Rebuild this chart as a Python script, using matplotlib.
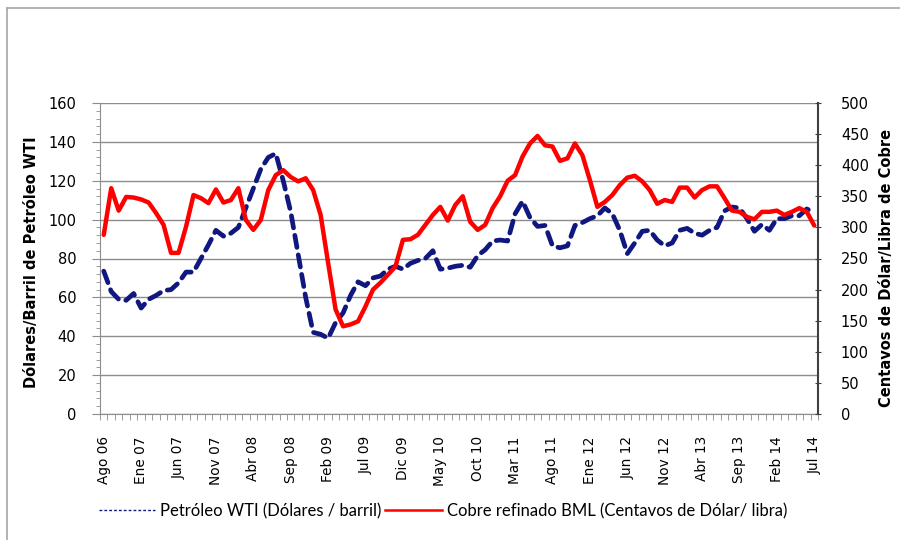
import numpy as np
import matplotlib
matplotlib.use("Agg")
import matplotlib.pyplot as plt
from matplotlib.lines import Line2D
from matplotlib.ticker import MultipleLocator, FixedLocator

# monthly data, Ago 06 .. Jul 14 (96 months)
tick_labels = ["Ago 06", "Ene 07", "Jun 07", "Nov 07", "Abr 08", "Sep 08", "Feb 09",
               "Jul 09", "Dic 09", "May 10", "Oct 10", "Mar 11", "Ago 11", "Ene 12",
               "Jun 12", "Nov 12", "Abr 13", "Sep 13", "Feb 14", "Jul 14"]

wti = [73.5, 63, 59, 58.5, 62, 54.5, 59, 61, 63.5, 64, 67.5, 73,
       73, 80, 87, 94.5, 91.5, 93, 96, 106, 116, 126, 132, 134,
       120, 104, 82, 60, 42, 41, 39, 47, 52, 61, 68, 66,
       70, 71, 74.5, 76, 74.5, 77.5, 79, 80, 84, 74.5, 75, 76,
       76.5, 75.5, 81.5, 84.5, 89, 89.5, 89, 103, 109.5, 101, 96.5, 97,
       86.5, 85.5, 86.5, 97, 98.5, 100.5, 102, 106, 103, 94.5, 82.5, 88,
       94, 94.5, 89.5, 86.5, 88, 94.5, 95.5, 93, 92, 94.5, 96, 104.5,
       106.5, 106, 100.5, 94, 97.5, 94.5, 100.5, 100.5, 102, 102, 105.5, 103.5]

cobre = [288, 363, 327, 349, 348, 345, 340, 323, 304, 259, 259, 301,
         352, 347, 339, 361, 340, 344, 363, 312, 296, 312, 360, 384,
         392, 381, 374, 379, 360, 320, 243, 168, 141, 144, 149, 173,
         200, 211, 224, 237, 280, 281, 288, 304, 320, 333, 311, 336,
         350, 309, 296, 304, 331, 350, 375, 384, 414, 435, 447, 432,
         430, 407, 411, 435, 416, 376, 333, 341, 352, 368, 380, 383,
         374, 360, 338, 344, 341, 364, 364, 348, 360, 366, 366, 347,
         327, 325, 317, 313, 325, 325, 327, 320, 325, 331, 325, 303]

x = np.arange(len(wti))
azul = "#101880"
rojo = "#ff0000"
gris = "#8c8c8c"

fig = plt.figure(figsize=(9, 5.4), dpi=100)
# marco exterior (solo arriba e izquierda, el resto queda fuera de la imagen)
x0, y0 = 6.5 / 900, 1 - 7.5 / 540
fig.lines.append(Line2D([x0, 1.0], [y0, y0], transform=fig.transFigure,
                        color="#a6a6a6", linewidth=1.2))
fig.lines.append(Line2D([x0, x0], [y0, 0.0], transform=fig.transFigure,
                        color="#a6a6a6", linewidth=1.2))

ax = fig.add_axes([100 / 900, 1 - 414 / 540, 718 / 900, 311 / 540])
ax2 = ax.twinx()

ax.plot(x, wti, color=azul, linewidth=3.4, linestyle=(0, (2.6, 1.6)),
        dash_capstyle="round", zorder=3)
ax2.plot(x, cobre, color=rojo, linewidth=3.2, solid_capstyle="round", zorder=3)

ax.set_xlim(-0.5, len(wti) - 0.5)
ax.set_ylim(0, 160)
ax2.set_ylim(0, 500)

ax.yaxis.set_major_locator(MultipleLocator(20))
ax.yaxis.set_minor_locator(MultipleLocator(4))
ax2.yaxis.set_major_locator(MultipleLocator(50))
ax.grid(axis="y", color=gris, linewidth=1)
ax.set_axisbelow(True)

ax.xaxis.set_major_locator(FixedLocator(x[::5]))
ax.set_xticklabels(tick_labels, rotation=90)
ax.xaxis.set_minor_locator(FixedLocator(np.arange(-0.5, len(wti), 1)))
ax.tick_params(axis="x", which="major", length=0, pad=16, labelsize=9.8)
ax.tick_params(axis="x", which="minor", length=4, color=gris, direction="out")
ax.tick_params(axis="y", which="major", length=6, color=gris, labelsize=10.5, pad=11)
ax.tick_params(axis="y", which="minor", length=3, color=gris)
ax2.tick_params(axis="y", which="major", length=5, color="#404040", direction="inout",
                labelsize=10.5, pad=14)

for s in ["top"]:
    ax.spines[s].set_visible(False)
    ax2.spines[s].set_visible(False)
ax.spines["left"].set_color(gris)
ax.spines["bottom"].set_color(gris)
ax2.spines["left"].set_visible(False)
ax2.spines["bottom"].set_visible(False)
ax.spines["right"].set_visible(False)
ax2.spines["right"].set_color("#404040")
ax2.spines["right"].set_linewidth(1.5)

fig.text(32 / 900, 1 - 262 / 540, "Dólares/Barril de Petróleo WTI", rotation=90,
         ha="center", va="center", fontsize=10.5, fontweight="bold")
fig.text(886 / 900, 1 - 268 / 540, "Centavos de Dólar/Libra de Cobre", rotation=90,
         ha="center", va="center", fontsize=10.5, fontweight="bold")

handles = [Line2D([], [], color=azul, linewidth=1, linestyle=(0, (2, 1.5))),
           Line2D([], [], color=rojo, linewidth=1.8)]
fig.legend(handles, ["Petróleo WTI (Dólares / barril)",
                     "Cobre refinado BML (Centavos de Dólar/ libra)"],
           loc="center", bbox_to_anchor=(443 / 900, 1 - 511 / 540), ncol=2, frameon=False,
           handlelength=3.4, handletextpad=0.3, columnspacing=0.2,
           prop={"family": ["Lato", "DejaVu Sans"], "size": 12})

fig.savefig("out.png", dpi=100)
